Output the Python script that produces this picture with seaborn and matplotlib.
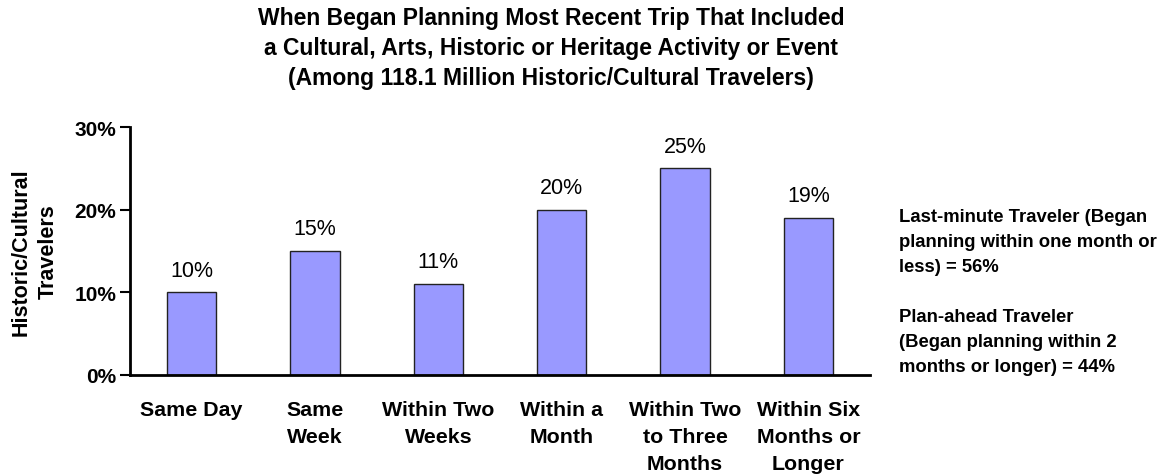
import matplotlib
matplotlib.use("Agg")
import matplotlib.pyplot as plt
import seaborn as sns
import pandas as pd

categories = [
    "Same Day",
    "Same\nWeek",
    "Within Two\nWeeks",
    "Within a\nMonth",
    "Within Two\nto Three\nMonths",
    "Within Six\nMonths or\nLonger",
]
shares = [10, 15, 11, 20, 25, 19]
y_ticks = [0, 10, 20, 30]

title = ("When Began Planning Most Recent Trip That Included\n"
         "a Cultural, Arts, Historic or Heritage Activity or Event\n"
         "(Among 118.1 Million Historic/Cultural Travelers)")
note_last_minute = ("Last-minute Traveler (Began\n"
                    "planning within one month or\n"
                    "less) = 56%")
note_plan_ahead = ("Plan-ahead Traveler\n"
                   "(Began planning within 2\n"
                   "months or longer) = 44%")

sns.set_theme(style="white")
plt.rcParams["font.family"] = ["Liberation Sans", "DejaVu Sans"]
plt.rcParams.update({
    "text.color": "black",
    "axes.labelcolor": "black",
    "xtick.color": "black",
    "ytick.color": "black",
})

df = pd.DataFrame({"when": categories, "share": shares})

fig = plt.figure(figsize=(11.73, 4.77), dpi=100)
ax = fig.add_axes([130 / 1173, 1 - 376 / 477, 740 / 1173, 248 / 477])

sns.barplot(data=df, x="when", y="share", ax=ax, color="#9999FF",
            saturation=1, width=0.4, edgecolor="#222222", linewidth=1.0)

for patch, v in zip(ax.patches, shares):
    ax.annotate(f"{v}%", (patch.get_x() + patch.get_width() / 2, v),
                xytext=(0, 16), textcoords="offset points",
                ha="center", va="center", fontsize=15.5, color="black")

ax.set_ylim(0, 30)
ax.set_xlim(-0.5, len(categories) - 0.5)
ax.set_yticks(y_ticks)
ax.set_yticklabels([f"{t}%" for t in y_ticks], fontsize=15, fontweight="bold")
ax.tick_params(axis="y", direction="out", length=7, width=1.5, color="black",
               left=True, pad=3)
ax.tick_params(axis="x", length=0, pad=18)
for lbl in ax.get_xticklabels():
    lbl.set_fontsize(15.4)
    lbl.set_fontweight("bold")
    lbl.set_linespacing(1.55)

ax.set_xlabel("")
ax.set_ylabel("Historic/Cultural\nTravelers", fontsize=15.5, fontweight="bold",
              labelpad=11, linespacing=1.38)

for side in ["top", "right"]:
    ax.spines[side].set_visible(False)
for side in ["left", "bottom"]:
    ax.spines[side].set_color("black")
    ax.spines[side].set_linewidth(2)

fig.text(551 / 1173, 1 - 7 / 477, title, ha="center", va="top",
         fontsize=16.5, fontweight="bold", linespacing=1.40)

fig.text(899 / 1173, 1 - 209 / 477, note_last_minute, ha="left", va="top",
         fontsize=13.3, fontweight="bold", linespacing=1.63)
fig.text(899 / 1173, 1 - 309 / 477, note_plan_ahead, ha="left", va="top",
         fontsize=13.3, fontweight="bold", linespacing=1.63)

fig.savefig("out.png", dpi=100)
